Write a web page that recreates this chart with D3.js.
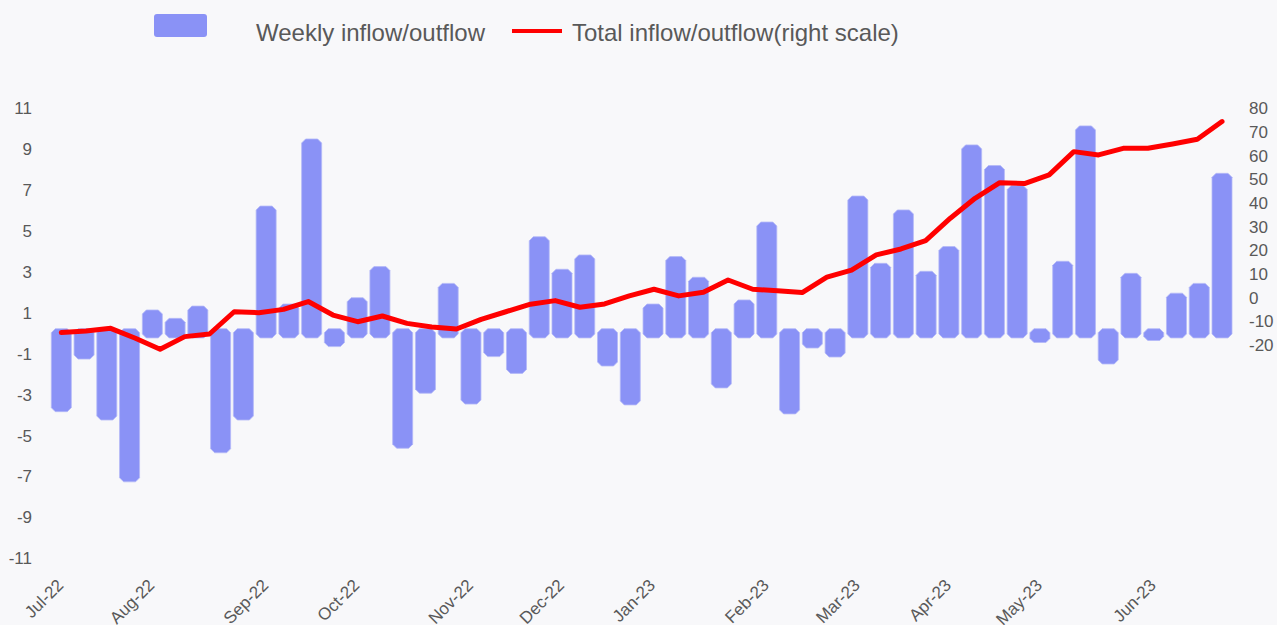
<!DOCTYPE html>
<html>
<head>
<meta charset="utf-8">
<script src="https://cdn.jsdelivr.net/npm/d3@7"></script>
<style>
    html, body { margin: 0; padding: 0; background: #f8f8fa; }
    #chart { width: 1277px; height: 625px; }
    text { font-family: 'Liberation Sans', Arial, sans-serif; fill: #595959; }
</style>
</head>
<body>
<div id="chart"></div>
<script>
// weekly inflow/outflow (left scale)
const weeklyFlow = [
    -3.83, -1.26, -4.24, -7.26, 1.14, 0.73, 1.33, -5.84, -4.24, 6.22,
    1.43, 9.5, -0.65, 1.74, 3.26, -5.62, -2.93, 2.44, -3.46, -1.14,
    -1.96, 4.72, 3.13, 3.83, -1.6, -3.5, 1.43, 3.75, 2.74, -2.67,
    1.63, 5.44, -3.94, -0.72, -1.16, 6.71, 3.42, 6.03, 3.03, 4.24,
    9.21, 8.2, 7.22, -0.45, 3.52, 10.14, -1.5, 2.93, -0.35, 1.96,
    2.44, 7.82,
];

// total inflow/outflow (right scale)
const totalFlow = [
    -14.7, -14.0, -12.9, -17.1, -21.7, -16.4, -15.3, -5.9, -6.3, -4.9,
    -1.6, -7.3, -10.1, -7.7, -10.8, -12.3, -13.2, -9.1, -5.9, -2.7,
    -1.2, -4.0, -2.6, 0.8, 3.6, 0.8, 2.3, 7.5, 3.6, 3.0,
    2.2, 8.7, 11.7, 18.1, 20.6, 24.1, 33.6, 42.0, 48.6, 48.2,
    51.9, 61.7, 60.3, 63.1, 63.1, 64.9, 66.9, 74.4,
];

const monthLabels = ['Jul-22', 'Aug-22', 'Sep-22', 'Oct-22', 'Nov-22', 'Dec-22',
    'Jan-23', 'Feb-23', 'Mar-23', 'Apr-23', 'May-23', 'Jun-23'];
const monthStartWeek = [0, 4, 9, 13, 18, 22, 26, 31, 35, 39, 43, 48];

const leftTicks = [-11, -9, -7, -5, -3, -1, 1, 3, 5, 7, 9, 11];
const rightTicks = [-20, -10, 0, 10, 20, 30, 40, 50, 60, 70, 80];

const legendItems = ['Weekly inflow/outflow', 'Total inflow/outflow(right scale)'];

const barColor = '#8a92f6';
const lineColor = '#ff0000';

class FlowChart {
    constructor(parentElement) {
        this.parentElement = parentElement;
        this.initVis();
    }

    initVis() {
        let vis = this;

        vis.width = 1277;
        vis.height = 625;

        vis.svg = d3
            .select('#' + vis.parentElement)
            .append('svg')
            .attr('width', vis.width)
            .attr('height', vis.height);

        // bars and line share the same horizontal span, but not the same number of points
        vis.xBar = d3.scalePoint().domain(d3.range(weeklyFlow.length)).range([61.3, 1222]);
        vis.xLine = d3.scalePoint().domain(d3.range(totalFlow.length)).range([61.3, 1222]);

        vis.yLeft = d3.scaleLinear().domain([-11, 11]).range([558.3, 108.3]);
        vis.yRight = d3.scaleLinear().domain([-110, 80]).range([558.3, 108.3]);

        vis.drawAxes();
        vis.drawBars();
        vis.drawLine();
        vis.drawLegend();
    }

    drawAxes() {
        let vis = this;

        // plain hyphen for negatives, like the original
        let fmt = (d) => String(d);

        let left = d3.axisLeft(vis.yLeft).tickValues(leftTicks).tickFormat(fmt).tickSize(0).tickPadding(0);
        vis.svg.append('g').attr('transform', 'translate(32,0)').call(left);

        let right = d3.axisRight(vis.yRight).tickValues(rightTicks).tickFormat(fmt).tickSize(0).tickPadding(0);
        vis.svg.append('g').attr('transform', 'translate(1249,0)').call(right);

        vis.svg.selectAll('.domain').remove();
        vis.svg.selectAll('.tick text').style('font-size', '17px').attr('fill', '#595959')
            .style('font-family', "'Liberation Sans', Arial, sans-serif");

        // month labels, rotated
        vis.svg
            .append('g')
            .selectAll('.month')
            .data(monthLabels)
            .enter()
            .append('text')
            .attr('class', 'month')
            .attr('text-anchor', 'end')
            .attr('dy', '0.35em')
            .attr('transform', (d, i) => `translate(${vis.xBar(monthStartWeek[i]) - 1},582) rotate(-45)`)
            .style('font-size', '17px')
            .text((d) => d);
    }

    drawBars() {
        let vis = this;
        const bw = 20;
        const c = 4; // corner cut
        const ext = 4.6; // bars run a little past zero
        const zero = vis.yLeft(0);

        let chamfer = (d, i) => {
            let x0 = vis.xBar(i) - bw / 2;
            let x1 = x0 + bw;
            let yv = vis.yLeft(d);
            let top = d >= 0 ? yv : zero - ext;
            let bot = d >= 0 ? zero + ext : yv;
            return `M${x0 + c},${top}L${x1 - c},${top}L${x1},${top + c}L${x1},${bot - c}` +
                `L${x1 - c},${bot}L${x0 + c},${bot}L${x0},${bot - c}L${x0},${top + c}Z`;
        };

        vis.svg
            .append('g')
            .selectAll('.bar')
            .data(weeklyFlow)
            .enter()
            .append('path')
            .attr('class', 'bar')
            .attr('d', chamfer)
            .attr('fill', barColor)
            .attr('stroke', '#b4b9f8')
            .attr('stroke-width', 0.8);
    }

    drawLine() {
        let vis = this;

        let line = d3
            .line()
            .x((d, i) => vis.xLine(i))
            .y((d) => vis.yRight(d));

        vis.svg
            .append('path')
            .datum(totalFlow)
            .attr('d', line)
            .attr('fill', 'none')
            .attr('stroke', lineColor)
            .attr('stroke-width', 5)
            .attr('stroke-linejoin', 'round')
            .attr('stroke-linecap', 'round');
    }

    drawLegend() {
        let vis = this;
        let g = vis.svg.append('g').style('font-size', '24px');

        g.append('rect').attr('x', 154).attr('y', 14).attr('width', 53).attr('height', 23)
            .attr('rx', 3).attr('fill', barColor);
        g.append('text').attr('x', 256).attr('y', 33).attr('dy', '0.35em').text(legendItems[0]);

        g.append('line').attr('x1', 512).attr('x2', 562).attr('y1', 31).attr('y2', 31)
            .attr('stroke', lineColor).attr('stroke-width', 4);
        g.append('text').attr('x', 572).attr('y', 33).attr('dy', '0.35em').text(legendItems[1]);
    }
}

new FlowChart('chart');
</script>
</body>
</html>
